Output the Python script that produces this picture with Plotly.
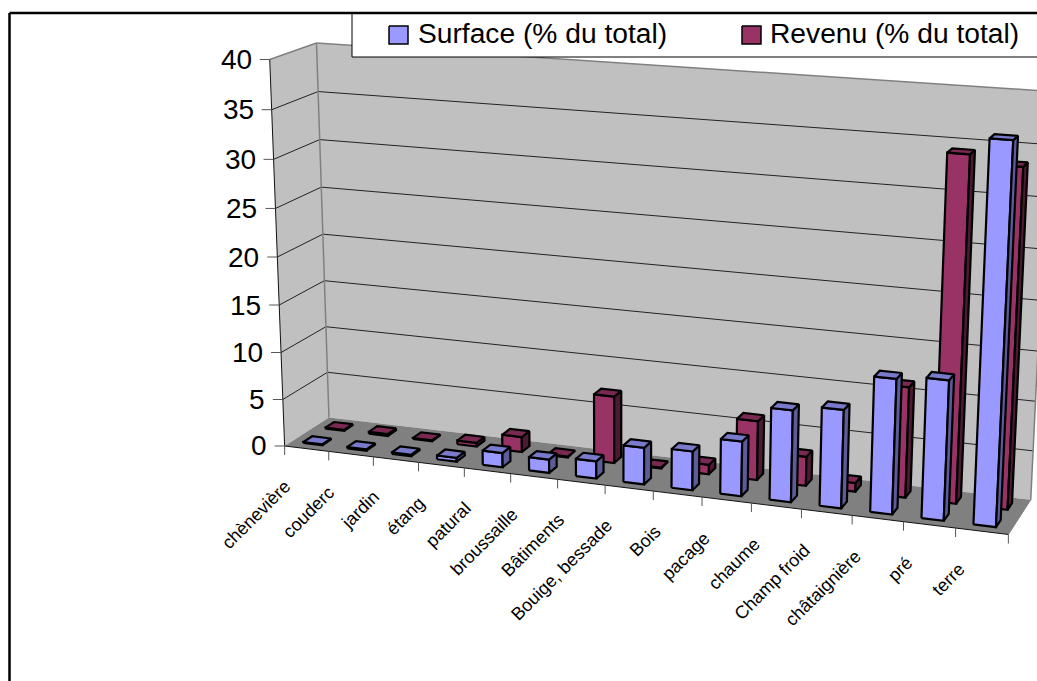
import numpy as np
import plotly.graph_objects as go

# Parcel types and their share of total surface and income, in percent
categories = ["chènevière", "couderc", "jardin", "étang", "patural", "broussaille",
              "Bâtiments", "Bouige, bessade", "Bois", "pacage", "chaume",
              "Champ froid", "châtaignière", "pré", "terre"]
surface = [0.1, 0.15, 0.15, 0.4, 1.5, 1.4, 1.8, 3.8, 4.0, 5.6, 9.3, 9.9, 13.5, 13.9, 37.0]
revenu = [0.1, 0.2, 0.1, 0.4, 1.6, 0.1, 7.0, 0.1, 1.0, 6.1, 3.0, 0.9, 11.2, 34.3, 33.5]
value_ticks = [0, 5, 10, 15, 20, 25, 30, 35, 40]
value_max = 40

FONT = "Liberation Sans"
WIDTH, HEIGHT = 1037, 681

# Camera: a projective map fitted on the corners of the chart box.
# Box coordinates are (category fraction, depth fraction, value fraction).
box_anchors = [
    ((0, 0, 0), (285, 446)), ((1, 0, 0), (1008, 535)),
    ((0, 1, 0), (328, 417)), ((1, 1, 0), (1031, 499)),
    ((0, 0, 1), (269, 59)), ((0, 1, 1), (317, 43)), ((1, 1, 1), (1050, 91)),
    ((0, 0, 0.5), (278, 257)), ((0, 1, 0.5), (323, 235)), ((1, 1, 0.5), (1041, 301)),
]


def fit_camera(anchors):
    rows = []
    for (a, b, c), (px, py) in anchors:
        p = [a, b, c, 1.0]
        rows.append(p + [0, 0, 0, 0] + [-px * v for v in p])
        rows.append([0, 0, 0, 0] + p + [-py * v for v in p])
    return np.linalg.svd(np.array(rows))[2][-1].reshape(3, 4)


CAMERA = fit_camera(box_anchors)


def project(cat, depth, value):
    """Screen position of a category position, a depth fraction and a value."""
    h = CAMERA @ np.array([cat / len(categories), depth, value / value_max, 1.0])
    return h[0] / h[2], h[1] / h[2]


fig = go.Figure()


def polygon(corners, fill, line=None, width=0, name=None):
    xs, ys = zip(*corners)
    fig.add_trace(go.Scatter(
        x=list(xs) + [xs[0]], y=list(ys) + [ys[0]], mode="lines", fill="toself",
        fillcolor=fill, line=dict(color=line or fill, width=width),
        hoverinfo="skip", showlegend=False, name=name))


def segment(a, b, color, width=1):
    fig.add_trace(go.Scatter(
        x=[a[0], b[0]], y=[a[1], b[1]], mode="lines",
        line=dict(color=color, width=width), hoverinfo="skip", showlegend=False))


n = len(categories)

# Walls and floor
polygon([project(0, 0, 0), project(0, 0, value_max), project(0, 1, value_max), project(0, 1, 0)], "#C0C0C0")
polygon([project(0, 1, 0), project(0, 1, value_max), project(n, 1, value_max), project(n, 1, 0)], "#C0C0C0")
polygon([project(0, 0, 0), project(n, 0, 0), project(n, 1, 0), project(0, 1, 0)], "#808080")

# Gridlines across both walls
for v in value_ticks[1:-1]:
    segment(project(0, 0, v), project(0, 1, v), "#222222")
    segment(project(0, 1, v), project(n, 1, v), "#222222")

# Box edges
segment(project(0, 0, value_max), project(0, 1, value_max), "#808080", 1.5)
segment(project(0, 1, value_max), project(n, 1, value_max), "#808080", 1.5)
segment(project(0, 1, 0), project(0, 1, value_max), "#808080", 1.5)
segment(project(n, 1, 0), project(n, 1, value_max), "#808080", 1.5)
segment(project(n, 0, 0), project(n, 1, 0), "#808080", 1)
segment(project(0, 0, 0), project(0, 0, value_max), "#111111", 1)
segment(project(0, 0, 0), project(n, 0, 0), "#111111", 1)

# Value axis ticks and labels
for v in value_ticks:
    px, py = project(0, 0, v)
    segment((px - 10, py), (px, py), "#555555")
    fig.add_annotation(x=px - 16, y=py, text=str(v), showarrow=False, xanchor="right",
                       yanchor="middle", font=dict(family=FONT, size=28, color="black"))

# Category axis ticks and labels
for k in range(n + 1):
    px, py = project(k, 0, 0)
    segment((px, py), (px, py + 9), "#555555")
for k, label in enumerate(categories):
    px, py = project(k + 0.5, 0, 0)
    fig.add_annotation(x=px - 10, y=py + 25, text=label, showarrow=False, textangle=-45,
                       xanchor="right", yanchor="top",
                       font=dict(family=FONT, size=18, color="black"))


def bar(k, value, depth0, depth1, front, top, side, name):
    left, right = k + 0.27, k + 0.70
    polygon([project(left, depth0, 0), project(right, depth0, 0),
             project(right, depth0, value), project(left, depth0, value)], front, "black", 2.2, name)
    polygon([project(right, depth0, 0), project(right, depth1, 0),
             project(right, depth1, value), project(right, depth0, value)], side, "black", 2.2, name)
    polygon([project(left, depth0, value), project(right, depth0, value),
             project(right, depth1, value), project(left, depth1, value)], top, "black", 2.2, name)


# Rear series first, then the front one, each from left to right
for k, v in enumerate(revenu):
    bar(k, v, 0.65, 0.85, "#993366", "#7A2952", "#4D1A33", "Revenu (% du total)")
for k, v in enumerate(surface):
    bar(k, v, 0.15, 0.35, "#9999FF", "#7A7ACC", "#5C5C99", "Surface (% du total)")

# Legend box
polygon([(352, 13), (1040, 13), (1040, 57), (352, 57)], "white", "black", 1)
for x0, color, label, tx in [(389, "#9999FF", "Surface (% du total)", 416),
                             (742, "#993366", "Revenu (% du total)", 768)]:
    polygon([(x0, 26), (x0 + 19, 26), (x0 + 19, 44), (x0, 44)], color, "black", 1.5)
    fig.add_annotation(x=tx, y=33, text=label, showarrow=False, xanchor="left", yanchor="middle",
                       font=dict(family=FONT, size=28.2, color="black"))

# Chart area border, running off the page on the right and at the bottom
segment((9.5, 690), (9.5, 13), "black", 2.5)
segment((9.5, 13), (1040, 13), "black", 2.5)

hidden = dict(visible=False, fixedrange=True)
fig.update_layout(
    width=WIDTH, height=HEIGHT, margin=dict(l=0, r=0, t=0, b=0),
    paper_bgcolor="white", plot_bgcolor="white", showlegend=False,
    xaxis=dict(range=[0, WIDTH], **hidden),
    yaxis=dict(range=[HEIGHT, 0], **hidden),
)
fig.write_html("out.html", config=dict(displayModeBar=False))
